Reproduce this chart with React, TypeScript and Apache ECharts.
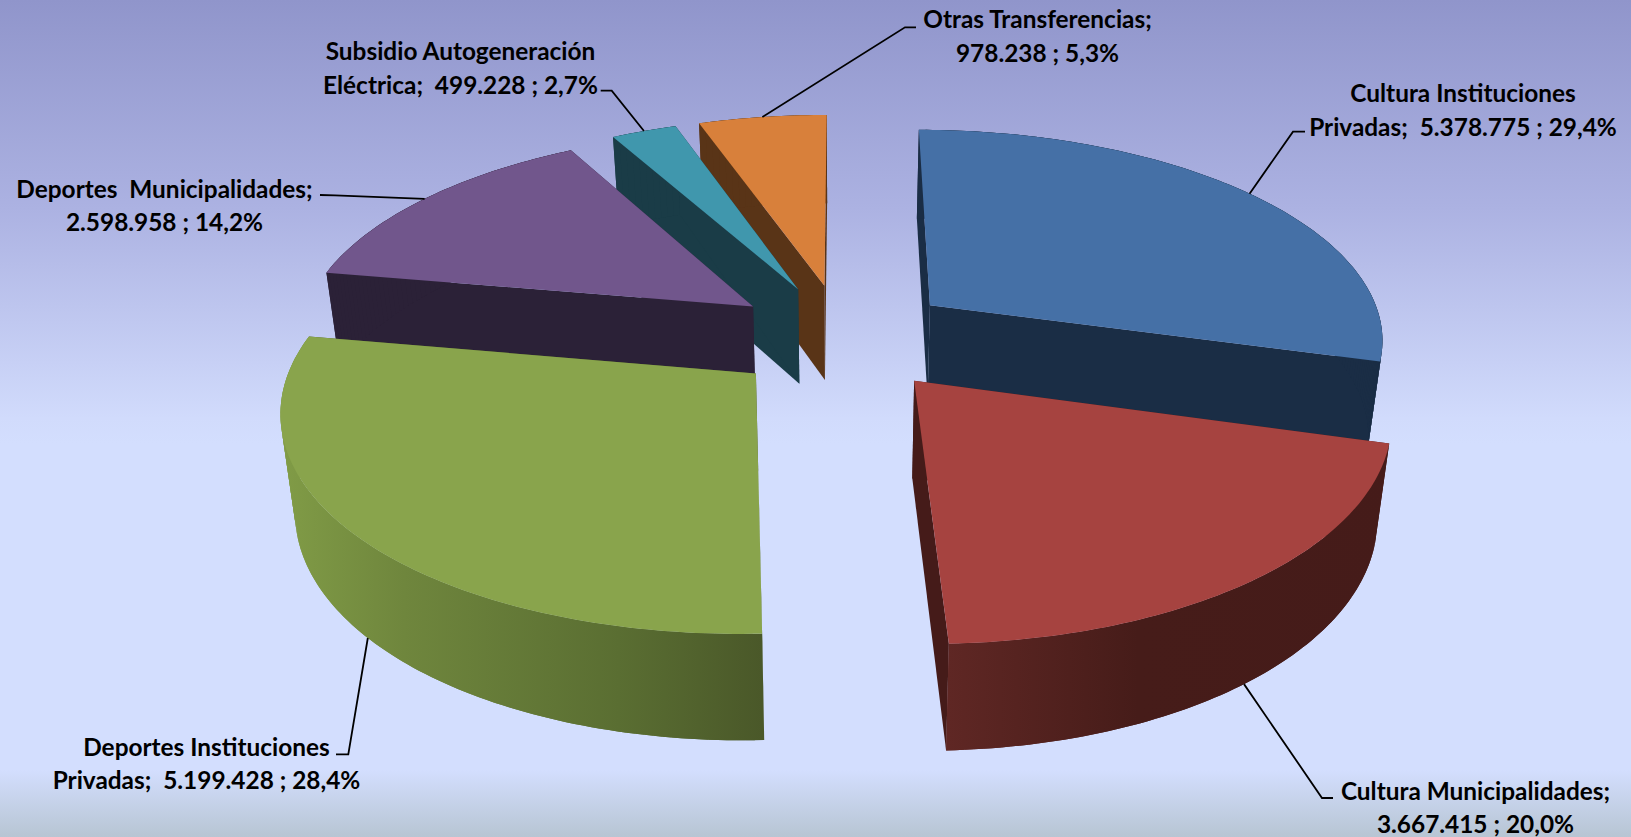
import React, { useEffect, useRef } from "react";
import * as echarts from "echarts";

const categories = [
  "Cultura Instituciones Privadas",
  "Cultura Municipalidades",
  "Deportes Instituciones Privadas",
  "Deportes Municipalidades",
  "Subsidio Autogeneración Eléctrica",
  "Otras Transferencias",
];
const seriesValues = [5378775, 3667415, 5199428, 2598958, 499228, 978238];
const valueLabels = ["5.378.775", "3.667.415", "5.199.428", "2.598.958", "499.228", "978.238"];
const percentLabels = ["29,4%", "20,0%", "28,4%", "14,2%", "2,7%", "5,3%"];
const labelLines = [
  ["Cultura Instituciones", "Privadas;  5.378.775 ; 29,4%"],
  ["Cultura Municipalidades;", "3.667.415 ; 20,0%"],
  ["Deportes Instituciones", "Privadas;  5.199.428 ; 28,4%"],
  ["Deportes  Municipalidades;", "2.598.958 ; 14,2%"],
  ["Subsidio Autogeneración", "Eléctrica;  499.228 ; 2,7%"],
  ["Otras Transferencias;", "978.238 ; 5,3%"],
];

const TOP = ["#4570a6", "#a64340", "#89a44c", "#71568c", "#4097ad", "#d8803b"];
const WALL = ["#1a2d45", "#451b19", "#6a8039", "#2b2137", "#1a3c47", "#593417"];
const WALL_GRAD: (null | { x0: number; x1: number; stops: [number, string][] })[] = [
  null,
  { x0: 948, x1: 1400, stops: [[0, "#5f2724"], [0.42, "#461c19"], [1, "#451b19"]] },
  { x0: 285, x1: 762, stops: [[0, "#809b46"], [0.25, "#6f863d"], [0.7, "#5a6e32"], [1, "#4a5829"]] },
  null,
  null,
  null,
];
// Painter's order: far slices first.
const DRAW_ORDER = [5, 4, 3, 0, 2, 1];
// Leader anchor plane, elbow, line end, label centre and first-line centre y.
const LABEL_LAYOUT = [
  { plane: 0, elbow: [1293, 131.7], end: [1305, 131.7], cx: 1463, y: 92.5 },
  { plane: 1, elbow: [1322, 798], end: [1333, 798], cx: 1475.5, y: 790 },
  { plane: 1, elbow: [348.3, 754.3], end: [336, 754.3], cx: 206.5, y: 746 },
  { plane: 0, elbow: [335, 195.3], end: [320, 195], cx: 164.5, y: 188 },
  { plane: 0, elbow: [611.7, 90.7], end: [600.7, 90.7], cx: 460.5, y: 50.5 },
  { plane: 0, elbow: [905, 27.3], end: [916, 27.3], cx: 1037.5, y: 18.5 },
];

const W = 1631;
const H = 837;
const VIEW = {
  cx: 842.5, y0: 337, A: 456, B: 210, g: 0.148,
  ex: 0.246, ey: 0.257,
  botX: 0.974, botY: 1.035, botY0: 433,
};

const total = seriesValues.reduce((a, b) => a + b, 0);
const cumulative: number[] = [];
seriesValues.reduce((acc, v, i) => ((cumulative[i] = acc), acc + v), 0);

function sliceAngles(i: number) {
  const a0 = (cumulative[i] / total) * Math.PI * 2;
  const a1 = ((cumulative[i] + seriesValues[i]) / total) * Math.PI * 2;
  return { a0, a1, mid: (a0 + a1) / 2 };
}

function project(u: number, v: number, plane: number): number[] {
  const w = 1 + VIEW.g * v;
  const X = VIEW.A * (u / w);
  const Y = -VIEW.B * (v / w);
  if (plane === 0) return [VIEW.cx + X, VIEW.y0 + Y];
  return [VIEW.cx + X * VIEW.botX, VIEW.botY0 + Y * VIEW.botY];
}

function sliceGeometry(i: number) {
  const { a0, a1, mid } = sliceAngles(i);
  const ox = VIEW.ex * Math.sin(mid);
  const oy = VIEW.ey * Math.cos(mid);
  const steps = Math.max(4, Math.ceil(((a1 - a0) * 180) / Math.PI));
  const angles: number[] = [];
  for (let k = 0; k <= steps; k++) angles.push(a0 + ((a1 - a0) * k) / steps);
  const arc = (plane: number) =>
    angles.map((a) => project(ox + Math.sin(a), oy + Math.cos(a), plane));
  return {
    apexTop: project(ox, oy, 0),
    apexBot: project(ox, oy, 1),
    arcTop: arc(0),
    arcBot: arc(1),
    anchor: (plane: number) =>
      project(ox + Math.sin(mid), oy + Math.cos(mid), plane),
  };
}

function renderSlice(_params: any, api: any) {
  const i = api.value(0) as number;
  const g = sliceGeometry(i);
  const grad = WALL_GRAD[i];
  const arcFill = grad
    ? {
        type: "linear", x: grad.x0, y: 0, x2: grad.x1, y2: 0, global: true,
        colorStops: grad.stops.map(([offset, color]) => ({ offset, color })),
      }
    : WALL[i];
  const darkRadial = i === 2 ? "#4a5829" : i === 1 ? "#451b19" : WALL[i];
  const n = g.arcTop.length - 1;
  const poly = (points: number[][], fill: any) => ({
    type: "polygon",
    shape: { points },
    style: { fill, stroke: null },
    silent: true,
  });
  // The curved wall is built from overlapping strips: a single folded polygon
  // would cancel itself out where the strip turns at the silhouette.
  const wallStrips = [];
  for (let k = 0; k < n; k++) {
    const e = Math.min(k + 2, n);
    wallStrips.push(poly([g.arcTop[k], g.arcTop[k + 1], g.arcTop[e], g.arcBot[e], g.arcBot[k + 1], g.arcBot[k]], arcFill));
  }
  return {
    type: "group",
    children: [
      poly([g.apexTop, g.arcTop[0], g.arcBot[0], g.apexBot], darkRadial),
      poly([g.apexTop, g.arcTop[n], g.arcBot[n], g.apexBot], darkRadial),
      ...wallStrips,
      poly([g.apexTop, ...g.arcTop], TOP[i]),
    ],
  };
}

function renderLabel(_params: any, api: any) {
  const i = api.value(0) as number;
  const L = LABEL_LAYOUT[i];
  const g = sliceGeometry(i);
  return {
    type: "group",
    children: [
      {
        type: "polyline",
        shape: { points: [g.anchor(L.plane), L.elbow, L.end] },
        style: { stroke: "#000000", lineWidth: 1.8, fill: null },
        silent: true,
      },
      ...labelLines[i].map((line, k) => ({
        type: "text",
        x: L.cx,
        y: L.y + k * 33.5,
        style: {
          text: line,
          fill: "#000000",
          font: 'bold 24.4px Lato, "Open Sans", sans-serif',
          textAlign: "center",
          textVerticalAlign: "middle",
        },
        silent: true,
      })),
    ],
  };
}

export default function App() {
  const ref = useRef<HTMLDivElement>(null);
  useEffect(() => {
    document.body.style.margin = "0";
    document.body.style.overflow = "hidden";
    const chart = echarts.init(ref.current!, undefined, { renderer: "svg" });
    chart.setOption({
      animation: false,
      backgroundColor: {
        type: "linear", x: 0, y: 0, x2: 0, y2: 1,
        colorStops: [
          { offset: 0, color: "#9095cb" },
          { offset: 0.25, color: "#acb2e2" },
          { offset: 0.5, color: "#d1dbfc" },
          { offset: 0.53, color: "#d3defe" },
          { offset: 0.92, color: "#d3defe" },
          { offset: 1, color: "#b7c5d3" },
        ],
      },
      tooltip: { show: false },
      series: [
        {
          type: "custom",
          name: "Transferencias",
          coordinateSystem: "none",
          renderItem: renderSlice,
          data: DRAW_ORDER.map((i) => ({ name: categories[i], value: [i, seriesValues[i]] })),
          silent: true,
        },
        {
          type: "custom",
          name: "Etiquetas",
          coordinateSystem: "none",
          renderItem: renderLabel,
          z: 5,
          data: categories.map((name, i) => ({
            name: `${name}; ${valueLabels[i]} ; ${percentLabels[i]}`,
            value: [i, seriesValues[i]],
          })),
          silent: true,
        },
      ],
    });
    return () => chart.dispose();
  }, []);
  return <div ref={ref} style={{ width: W, height: H }} />;
}
